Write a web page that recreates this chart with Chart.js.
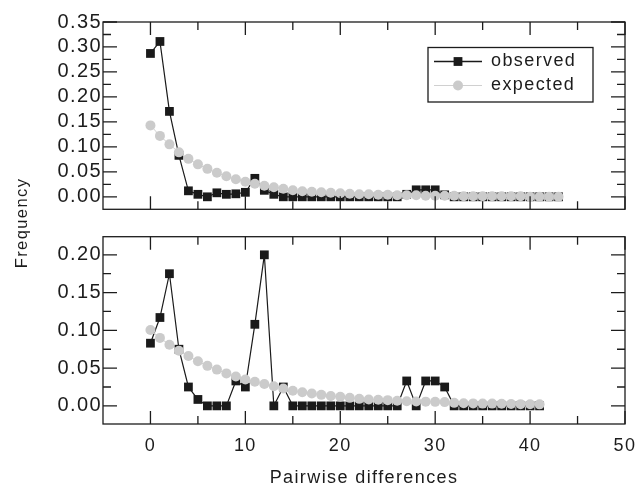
<!DOCTYPE html>
<html><head><meta charset="utf-8">
<script src="https://cdn.jsdelivr.net/npm/chart.js@4.4.1/dist/chart.umd.min.js"></script>
<style>html,body{margin:0;padding:0;background:#fff;}canvas{display:block;}</style>
</head><body>
<canvas id="c" width="637" height="492"></canvas>
<script>
// ---------- data ----------
const xTop = [0,1,2,3,4,5,6,7,8,9,10,11,12,13,14,15,16,17,18,19,20,21,22,23,24,25,26,27,28,29,30,31,32,33,34,35,36,37,38,39,40,41,42,43];
const observedTop = [0.287,0.311,0.171,0.083,0.012,0.005,0.000,0.008,0.005,0.006,0.009,0.037,0.013,0.005,0,0,0,0,0,0,0,0,0,0,0,0,0,0.005,0.014,0.014,0.014,0.004,0,0,0,0,0,0,0,0,0,0,0,0];
const expectedTop = [0.143,0.122,0.105,0.089,0.076,0.065,0.056,0.048,0.041,0.035,0.030,0.026,0.022,0.019,0.016,0.013,0.011,0.010,0.009,0.008,0.007,0.006,0.005,0.005,0.004,0.004,0.003,0.003,0.003,0.002,0.002,0.002,0.002,0.001,0.001,0.001,0.001,0.001,0.001,0.001,0.000,0.000,0.000,0.000];
const xBottom = [0,1,2,3,4,5,6,7,8,9,10,11,12,13,14,15,16,17,18,19,20,21,22,23,24,25,26,27,28,29,30,31,32,33,34,35,36,37,38,39,40,41];
const observedBottom = [0.083,0.117,0.175,0.075,0.025,0.0085,0,0,0,0.033,0.025,0.108,0.200,0,0.025,0,0,0,0,0,0,0,0,0,0,0,0,0.033,0,0.033,0.033,0.025,0,0,0,0,0,0,0,0,0,0];
const expectedBottom = [0.1005,0.090,0.081,0.073,0.066,0.059,0.053,0.048,0.043,0.039,0.035,0.032,0.029,0.026,0.023,0.020,0.018,0.0165,0.0146,0.013,0.012,0.0106,0.0093,0.0085,0.008,0.0076,0.0067,0.0062,0.0058,0.0056,0.0053,0.005,0.004,0.0035,0.0033,0.003,0.003,0.0028,0.0025,0.0023,0.0022,0.002];
const seriesNames = ['observed','expected'];
const xTickLabels = [0,10,20,30,40,50];
const xMinorTicks = [5,15,25,35,45];
const yTopTicks = [0,0.05,0.10,0.15,0.20,0.25,0.30,0.35];
const yTopMinor = [0.025,0.075,0.125,0.175,0.225,0.275,0.325];
const yBottomTicks = [0,0.05,0.10,0.15,0.20];
const yBottomMinor = [0.025,0.075,0.125,0.175];
const xTitle = 'Pairwise differences';
const yTitle = 'Frequency';

// ---------- styles ----------
const INK = '#1c1c1c';
const OBS = '#1a1a1a';
const EXP_LINE = '#d0d0d0';
const EXP_PT = '#cbcbcb';
const FONT = '"Liberation Sans", Arial, Helvetica, sans-serif';
const SPACING = '1.4px';
Chart.defaults.font.family = FONT;
Chart.defaults.font.size = 18;
Chart.defaults.color = INK;

const toPts = (xs, ys) => xs.map((x, i) => ({x: x, y: ys[i]}));

function legendSymbol(kind) {
  const c = document.createElement('canvas');
  c.width = 48; c.height = 15;
  const g = c.getContext('2d');
  g.beginPath(); g.moveTo(0, 7.5); g.lineTo(48, 7.5);
  g.strokeStyle = kind === 'obs' ? OBS : EXP_LINE;
  g.lineWidth = kind === 'obs' ? 1.4 : 1.2;
  g.stroke();
  if (kind === 'obs') { g.fillStyle = OBS; g.fillRect(24 - 4.4, 7.5 - 4.4, 8.8, 8.8); }
  else { g.fillStyle = EXP_PT; g.beginPath(); g.arc(24, 7.5, 5, 0, Math.PI * 2); g.fill(); }
  return c;
}
const symObs = legendSymbol('obs');
const symExp = legendSymbol('exp');

const panels = [
  {id: 'yTop', major: yTopTicks, minor: yTopMinor},
  {id: 'yBot', major: yBottomTicks, minor: yBottomMinor}
];

const LEG = {left: 428, top: 46.5, width: 165, height: 54.5};

const framePlugin = {
  id: 'frameTicks',
  beforeUpdate(chart) { try { chart.ctx.letterSpacing = SPACING; } catch (e) {} },
  beforeDraw(chart) { try { chart.ctx.letterSpacing = SPACING; } catch (e) {} },
  afterLayout(chart) {
    const lg = chart.legend;
    if (!lg) return;
    lg.left = LEG.left; lg.top = LEG.top;
    lg.right = LEG.left + lg.width; lg.bottom = LEG.top + lg.height;
  },
  afterDatasetsDraw(chart) {
    const ctx = chart.ctx;
    const xs = chart.scales.x;
    const left = xs.left, right = xs.right;
    ctx.save();
    ctx.strokeStyle = INK;
    ctx.lineWidth = 1.3;
    panels.forEach(p => {
      const ys = chart.scales[p.id];
      const top = ys.top, bottom = ys.bottom;
      ctx.strokeRect(left, top, right - left, bottom - top);
      ctx.beginPath();
      const xt = (v, len) => {
        const px = xs.getPixelForValue(v);
        ctx.moveTo(px, bottom); ctx.lineTo(px, bottom - len);
        ctx.moveTo(px, top); ctx.lineTo(px, top + len);
      };
      xTickLabels.forEach(v => xt(v, 13));
      xMinorTicks.forEach(v => xt(v, 8));
      const yt = (v, len) => {
        const py = ys.getPixelForValue(v);
        ctx.moveTo(left, py); ctx.lineTo(left + len, py);
        ctx.moveTo(right, py); ctx.lineTo(right - len, py);
      };
      p.major.forEach(v => yt(v, 14));
      p.minor.forEach(v => yt(v, 8));
      ctx.stroke();
    });
    ctx.restore();
  },
  afterDraw(chart) {
    const ctx = chart.ctx;
    ctx.save();
    ctx.strokeStyle = INK; ctx.lineWidth = 1.3;
    ctx.strokeRect(LEG.left, LEG.top + 1, LEG.width, LEG.height);
    ctx.restore();
  }
};

const fixWidth = s => { s.width = 103; };

new Chart(document.getElementById('c'), {
  type: 'line',
  data: {
    datasets: [
      {label: seriesNames[0], data: toPts(xTop, observedTop), xAxisID: 'x', yAxisID: 'yTop',
       borderColor: OBS, backgroundColor: OBS, borderWidth: 1.2, pointStyle: 'rect', pointRadius: 6.2,
       pointBorderWidth: 0, pointBackgroundColor: OBS, tension: 0, order: 2, clip: false},
      {label: seriesNames[1], data: toPts(xTop, expectedTop), xAxisID: 'x', yAxisID: 'yTop',
       borderColor: EXP_LINE, backgroundColor: EXP_PT, borderWidth: 1, pointStyle: 'circle', pointRadius: 5,
       pointBorderWidth: 0, pointBackgroundColor: EXP_PT, tension: 0, order: 1, clip: false},
      {label: seriesNames[0] + ' (2)', data: toPts(xBottom, observedBottom), xAxisID: 'x', yAxisID: 'yBot',
       borderColor: OBS, backgroundColor: OBS, borderWidth: 1.2, pointStyle: 'rect', pointRadius: 6.2,
       pointBorderWidth: 0, pointBackgroundColor: OBS, tension: 0, order: 2, clip: false},
      {label: seriesNames[1] + ' (2)', data: toPts(xBottom, expectedBottom), xAxisID: 'x', yAxisID: 'yBot',
       borderColor: EXP_LINE, backgroundColor: EXP_PT, borderWidth: 1, pointStyle: 'circle', pointRadius: 5,
       pointBorderWidth: 0, pointBackgroundColor: EXP_PT, tension: 0, order: 1, clip: false}
    ]
  },
  options: {
    responsive: false,
    animation: false,
    devicePixelRatio: 1,
    events: [],
    layout: {padding: {left: 0, right: 12, top: 22, bottom: 0}},
    plugins: {
      tooltip: {enabled: false},
      legend: {
        display: true,
        position: 'chartArea',
        align: 'start',
        labels: {
          usePointStyle: true,
          pointStyleWidth: 48,
          padding: 6,
          font: {size: 18},
          color: INK,
          generateLabels: () => [
            {text: seriesNames[0], pointStyle: symObs, datasetIndex: 0, hidden: false, lineWidth: 0, fillStyle: OBS, strokeStyle: OBS, fontColor: INK},
            {text: seriesNames[1], pointStyle: symExp, datasetIndex: 1, hidden: false, lineWidth: 0, fillStyle: EXP_PT, strokeStyle: EXP_LINE, fontColor: INK}
          ]
        }
      }
    },
    scales: {
      x: {
        type: 'linear', position: 'bottom', min: -5, max: 50,
        afterBuildTicks: s => { s.ticks = xTickLabels.map(v => ({value: v})); },
        afterFit: s => { s.height = 68; s.paddingLeft = 0; s.paddingRight = 0; },
        grid: {display: false, drawTicks: false},
        border: {display: false},
        ticks: {autoSkip: false, maxRotation: 0, padding: 11, callback: v => String(v), font: {size: 18}},
        title: {display: true, text: xTitle, padding: {top: 0, bottom: 3}, font: {size: 18}}
      },
      yTop: {
        type: 'linear', position: 'left', stack: 'panels', stackWeight: 187.3, weight: 3,
        min: -0.025, max: 0.35,
        afterBuildTicks: s => { s.ticks = yTopTicks.map(v => ({value: v})); },
        afterFit: s => { s.width = 103; s.paddingTop = 0; s.paddingBottom = 0; },
        grid: {display: false, drawTicks: false},
        border: {display: false},
        ticks: {autoSkip: false, padding: 1, callback: v => Number(v).toFixed(2), font: {size: 20}}
      },
      yGap: {
        type: 'linear', position: 'left', stack: 'panels', stackWeight: 27.4, weight: 2,
        min: 0, max: 1,
        afterFit: fixWidth,
        grid: {display: false, drawTicks: false},
        border: {display: false},
        ticks: {display: false},
        title: {display: true, text: yTitle, padding: {top: 13, bottom: 0}, font: {size: 16.5}}
      },
      yBot: {
        type: 'linear', position: 'left', stack: 'panels', stackWeight: 187.3, weight: 1,
        min: -0.024, max: 0.224,
        afterBuildTicks: s => { s.ticks = yBottomTicks.map(v => ({value: v})); },
        afterFit: s => { s.width = 103; s.paddingTop = 0; s.paddingBottom = 0; },
        grid: {display: false, drawTicks: false},
        border: {display: false},
        ticks: {autoSkip: false, padding: 1, callback: v => Number(v).toFixed(2), font: {size: 20}}
      }
    }
  },
  plugins: [framePlugin]
});
</script>
</body></html>
